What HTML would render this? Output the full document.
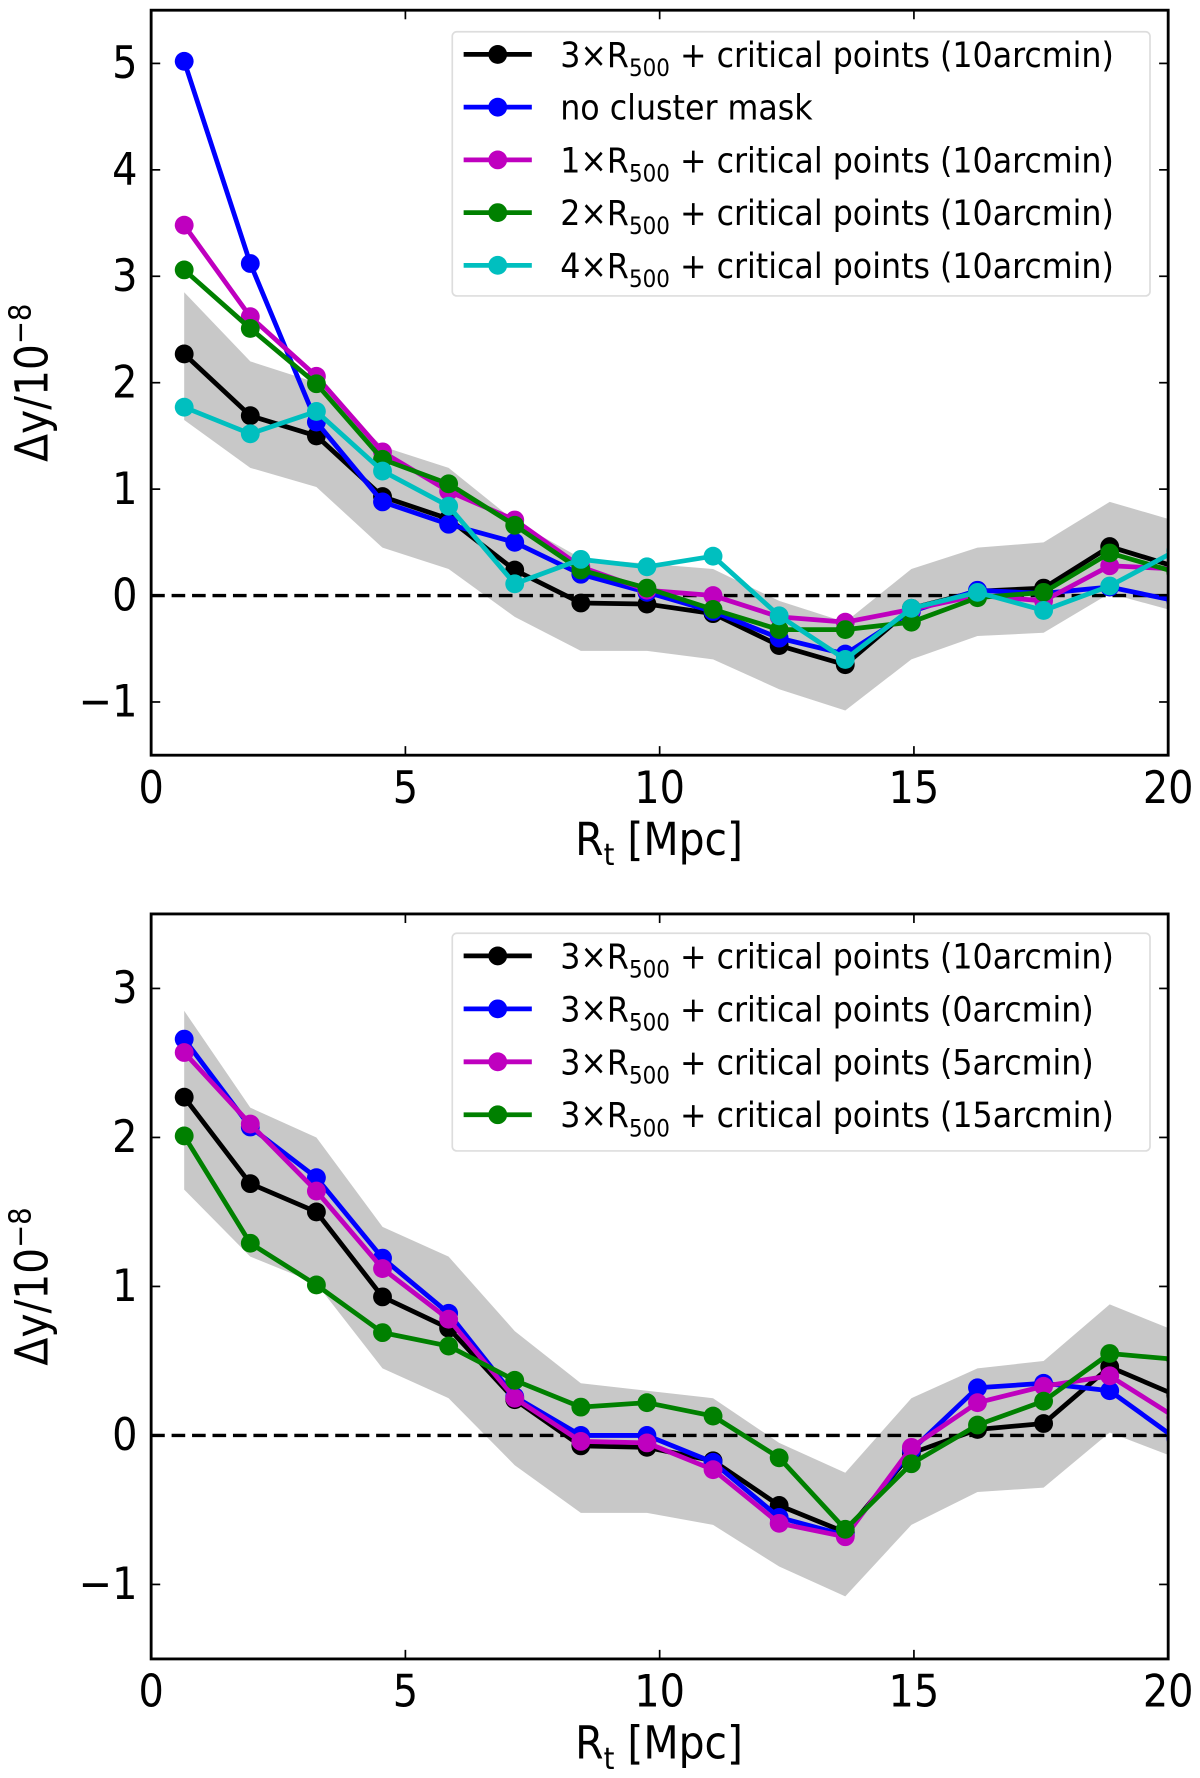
<!DOCTYPE html>
<html><head><meta charset="utf-8"><style>
html,body{margin:0;padding:0;background:#fff;}
svg{display:block;font-family:"DejaVu Sans Condensed","DejaVu Sans","Liberation Sans Narrow","Liberation Sans",sans-serif;font-stretch:condensed;}
</style></head><body>
<svg id="fig" width="1200" height="1778" viewBox="0 0 1056 1568" preserveAspectRatio="none" xmlns="http://www.w3.org/2000/svg">
<defs>
<clipPath id="c1"><rect x="133" y="9" width="895" height="657"/></clipPath>
<clipPath id="c2"><rect x="133" y="806" width="895" height="657"/></clipPath>
</defs>
</svg>
<script>
const xCenters = [0.65,1.95,3.25,4.55,5.85,7.15,8.45,9.75,11.05,12.35,13.65,14.95,16.25,17.55,18.85,20.15];
const bandUpper = [2.85,2.2,2.0,1.4,1.2,0.7,0.35,0.3,0.25,-0.05,-0.25,0.25,0.45,0.5,0.88,0.7];
const bandLower = [1.65,1.2,1.02,0.45,0.25,-0.2,-0.52,-0.52,-0.6,-0.88,-1.08,-0.6,-0.38,-0.35,0.02,-0.15];
const topBlack = [2.27,1.69,1.50,0.93,0.72,0.24,-0.07,-0.08,-0.17,-0.47,-0.65,-0.12,0.04,0.07,0.46,0.27];
const topBlue = [5.02,3.12,1.63,0.88,0.67,0.50,0.20,0.03,-0.15,-0.40,-0.55,-0.15,0.05,0.02,0.08,-0.05];
const topMagenta = [3.48,2.62,2.06,1.35,0.98,0.71,0.27,0.05,0.0,-0.20,-0.25,-0.13,0.0,-0.05,0.28,0.25];
const topGreen = [3.06,2.51,1.99,1.28,1.05,0.66,0.24,0.07,-0.13,-0.32,-0.32,-0.25,-0.02,0.03,0.40,0.22];
const topCyan = [1.77,1.52,1.73,1.17,0.84,0.11,0.34,0.27,0.37,-0.19,-0.60,-0.12,0.03,-0.14,0.09,0.42];
const botBlack = [2.27,1.69,1.50,0.93,0.72,0.24,-0.07,-0.08,-0.17,-0.47,-0.65,-0.12,0.04,0.08,0.46,0.27];
const botBlue = [2.66,2.07,1.73,1.19,0.82,0.26,0.0,0.0,-0.18,-0.55,-0.67,-0.10,0.32,0.35,0.30,-0.02];
const botMagenta = [2.57,2.09,1.64,1.12,0.78,0.25,-0.04,-0.05,-0.23,-0.59,-0.68,-0.08,0.22,0.33,0.40,0.12];
const botGreen = [2.01,1.29,1.01,0.69,0.60,0.37,0.19,0.22,0.13,-0.15,-0.63,-0.19,0.07,0.23,0.55,0.51];
const xTicks = [0,5,10,15,20];
const topYTicks = [-1,0,1,2,3,4,5];
const botYTicks = [-1,0,1,2,3];
const topLabels = ["3×R|500| + critical points (10arcmin)","no cluster mask","1×R|500| + critical points (10arcmin)","2×R|500| + critical points (10arcmin)","4×R|500| + critical points (10arcmin)"];
const botLabels = ["3×R|500| + critical points (10arcmin)","3×R|500| + critical points (0arcmin)","3×R|500| + critical points (5arcmin)","3×R|500| + critical points (15arcmin)"];

const NS="http://www.w3.org/2000/svg";
const svg=document.getElementById('fig');
function mk(tag,attrs,parent){const e=document.createElementNS(NS,tag);for(const k in attrs)e.setAttribute(k,attrs[k]);(parent||svg).appendChild(e);return e;}

function panel(cfg){
  const L=133,R=1028,T=cfg.top,B=cfg.top+657;
  const xs=v=>L+(v-0)/(20-0)*(R-L);
  const ys=v=>B-(v-cfg.ymin)/(cfg.ymax-cfg.ymin)*(B-T);
  const g=mk('g',{});
  
  
  const pg=mk('g',{'clip-path':'url(#'+cfg.clip+')'},g);
  let d='';
  xCenters.forEach((x,i)=>{d+=(i?'L':'M')+xs(x)+','+ys(bandUpper[i]);});
  for(let i=xCenters.length-1;i>=0;i--)d+='L'+xs(xCenters[i])+','+ys(bandLower[i]);
  const band=mk('path',{d:d+'Z',fill:'#c8c8c8'},pg);
  
  
  const zl=mk('line',{x1:L,x2:R,y1:ys(0),y2:ys(0),stroke:'#000','stroke-width':3,'stroke-dasharray':'12,6'},pg);
  
  
  cfg.series.forEach((s,si)=>{
    const sg=mk('g',{},pg);
    
    
    mk('polyline',{points:s.vals.map((v,i)=>xs(xCenters[i])+','+ys(v)).join(' '),fill:'none',stroke:s.color,'stroke-width':4.2,'stroke-linejoin':'round'},sg);
    s.vals.forEach((v,i)=>{
      const c=mk('circle',{cx:xs(xCenters[i]),cy:ys(v),r:8.3,fill:s.color},sg);
      
      
    });
  });
  const fr=mk('rect',{x:L,y:T,width:R-L,height:B-T,fill:'none',stroke:'#000','stroke-width':2.5},g);
  
  
  xTicks.forEach(t=>{
    const x=xs(t);
    mk('line',{x1:x,x2:x,y1:B,y2:B-8,stroke:'#000','stroke-width':1.5},g);
    mk('line',{x1:x,x2:x,y1:T,y2:T+8,stroke:'#000','stroke-width':1.5},g);
    const tx=mk('text',{x:x,y:B+42,'text-anchor':'middle','font-size':39},g);
    tx.textContent=t;
    
    
  });
  cfg.yticks.forEach(t=>{
    const y=ys(t);
    mk('line',{x1:L,x2:L+8,y1:y,y2:y,stroke:'#000','stroke-width':1.5},g);
    mk('line',{x1:R,x2:R-8,y1:y,y2:y,stroke:'#000','stroke-width':1.5},g);
    const tx=mk('text',{x:L-12,y:y+13,'text-anchor':'end','font-size':39},g);
    tx.textContent=t<0?'\u2212'+Math.abs(t):t;
    
    
  });
  const xl=mk('text',{x:580,y:B+88,'text-anchor':'middle','font-size':40},g);
  xl.innerHTML='R<tspan font-size="27" dy="9">t</tspan><tspan dy="-9"> [Mpc]</tspan>';
  
  
  const yc=(T+B)/2;
  const yl=mk('text',{x:0,y:0,'text-anchor':'middle','font-size':40,transform:'translate(42,'+yc+') rotate(-90)'},g);
  yl.innerHTML='\u0394y/10<tspan font-size="27" dy="-15">\u22128</tspan>';
  
  
  const lg=mk('g',{},g);
  
  
  mk('rect',{x:398,y:cfg.legTop,width:614,height:cfg.legH,fill:'#fff','fill-opacity':0.85,stroke:'#ddd','stroke-width':1.5,rx:4},lg);
  cfg.series.forEach((s,i)=>{
    const y=cfg.legTop+20+i*cfg.legStep;
    const eg=mk('g',{},lg);
    
    
    mk('line',{x1:408,x2:468,y1:y,y2:y,stroke:s.color,'stroke-width':4.2},eg);
    mk('circle',{cx:438,cy:y,r:8.3,fill:s.color},eg);
    const parts=cfg.labels[i].split('|');
    const t=mk('text',{x:493,y:y+11,'font-size':31},eg);
    if(parts.length===3){
      t.innerHTML=parts[0]+'<tspan font-size="21" dy="8">'+parts[1]+'</tspan><tspan dy="-8">'+parts[2]+'</tspan>';
    } else t.textContent=parts[0];
  });
}
panel({name:'top-panel',top:9,clip:'c1',ymin:-1.5,ymax:5.5,yticks:topYTicks,labels:topLabels,legTop:28,legH:233,legStep:46.5,
  series:[{key:'black',color:'#000',vals:topBlack},{key:'blue',color:'#0000ff',vals:topBlue},{key:'magenta',color:'#bf00bf',vals:topMagenta},{key:'green',color:'#008000',vals:topGreen},{key:'cyan',color:'#00bfbf',vals:topCyan}]});
panel({name:'bottom-panel',top:806,clip:'c2',ymin:-1.5,ymax:3.5,yticks:botYTicks,labels:botLabels,legTop:823,legH:192,legStep:46.7,
  series:[{key:'black',color:'#000',vals:botBlack},{key:'blue',color:'#0000ff',vals:botBlue},{key:'magenta',color:'#bf00bf',vals:botMagenta},{key:'green',color:'#008000',vals:botGreen}]});
</script>
</body></html>
